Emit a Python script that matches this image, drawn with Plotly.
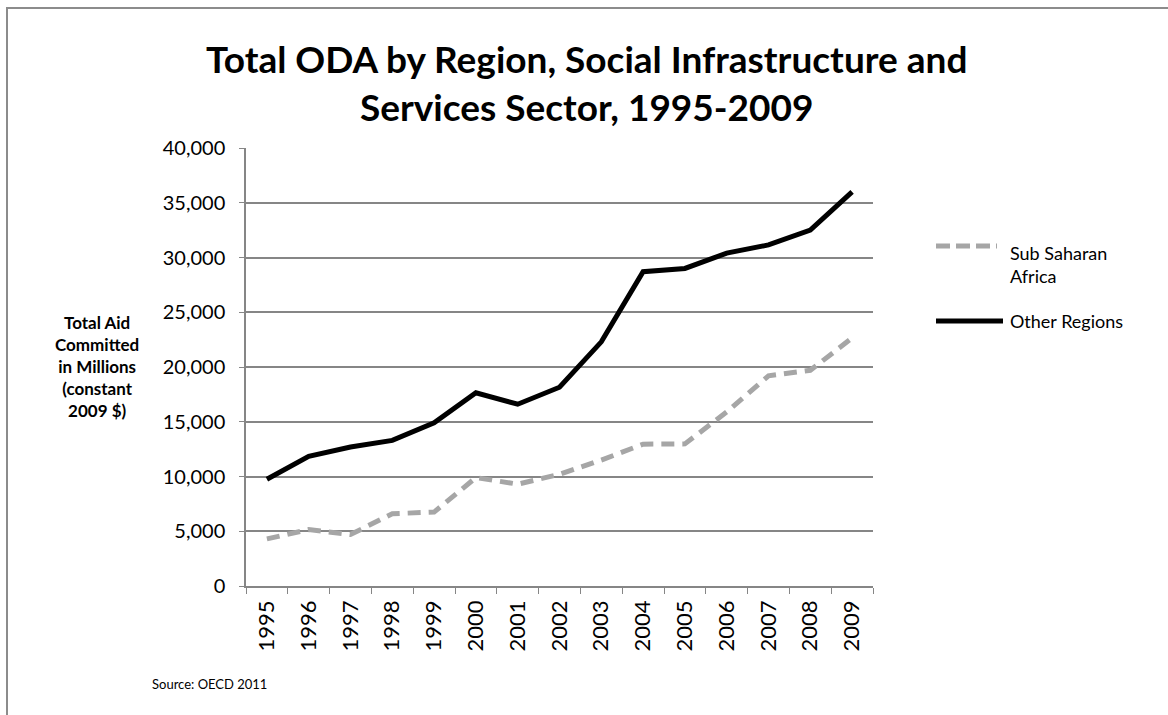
import plotly.graph_objects as go

years = ["1995", "1996", "1997", "1998", "1999", "2000", "2001", "2002",
         "2003", "2004", "2005", "2006", "2007", "2008", "2009"]
sub_saharan_africa = [4300, 5150, 4700, 6600, 6750, 9900, 9300, 10200,
                      11500, 12950, 12980, 15900, 19200, 19700, 22650]
other_regions = [9750, 11850, 12700, 13300, 14900, 17650, 16600, 18150,
                 22300, 28700, 29000, 30400, 31150, 32500, 36000]
y_ticks = [0, 5000, 10000, 15000, 20000, 25000, 30000, 35000, 40000]

FONT = "Lato"
GRID = "#868686"
W, H = 1168, 715
L, R, T, B = 246, 295, 148, 129
PW = W - L - R
PH = H - T - B


def px_x(px):
    return (px - L) / PW


def px_y(py):
    return (H - B - py) / PH


fig = go.Figure()
fig.add_trace(go.Scatter(
    x=years, y=sub_saharan_africa, mode="lines", name="Sub Saharan Africa",
    line=dict(color="#a6a6a6", width=5, dash="13px,8px"), showlegend=False))
fig.add_trace(go.Scatter(
    x=years, y=other_regions, mode="lines", name="Other Regions",
    line=dict(color="#000000", width=5), showlegend=False))

# legend drawn by hand
shapes = [
    dict(type="line", xref="paper", yref="paper",
         x0=px_x(936), x1=px_x(997), y0=px_y(246), y1=px_y(246),
         line=dict(color="#a6a6a6", width=5, dash="14px,6px")),
    dict(type="line", xref="paper", yref="paper",
         x0=px_x(936), x1=px_x(1003), y0=px_y(321), y1=px_y(321),
         line=dict(color="#000000", width=5)),
    # outer frame
    dict(type="rect", xref="paper", yref="paper",
         x0=px_x(7), x1=px_x(1200), y0=px_y(8), y1=px_y(760),
         line=dict(color="#8c8c8c", width=2)),
]

annotations = [
    dict(text="<b>Total ODA by Region, Social Infrastructure and<br>Services Sector, 1995-2009</b>",
         xref="paper", yref="paper", x=px_x(586), y=px_y(83), xanchor="center",
         yanchor="middle", showarrow=False, align="center",
         font=dict(family=FONT, size=37, color="#000")),
    dict(text="<b>Total Aid<br>Committed<br>in Millions<br>(constant<br>2009 $)</b>",
         xref="paper", yref="paper", x=px_x(97), y=px_y(366), xanchor="center",
         yanchor="middle", showarrow=False, align="center",
         font=dict(family=FONT, size=17, color="#000")),
    dict(text="Sub Saharan<br>Africa", xref="paper", yref="paper",
         x=px_x(1008), y=px_y(264), xanchor="left", yanchor="middle",
         showarrow=False, align="left",
         font=dict(family=FONT, size=18, color="#000")),
    dict(text="Other Regions", xref="paper", yref="paper",
         x=px_x(1008), y=px_y(321), xanchor="left", yanchor="middle",
         showarrow=False, align="left",
         font=dict(family=FONT, size=18, color="#000")),
    dict(text="Source: OECD 2011", xref="paper", yref="paper",
         x=px_x(150), y=px_y(684), xanchor="left", yanchor="middle",
         showarrow=False, font=dict(family=FONT, size=13, color="#000")),
]

fig.update_layout(
    width=W, height=H, margin=dict(l=L, r=R, t=T, b=B),
    paper_bgcolor="white", plot_bgcolor="white",
    shapes=shapes, annotations=annotations,
    font=dict(family=FONT, color="#000"),
)
fig.update_xaxes(
    type="category", range=[-0.5, len(years) - 0.5], tickangle=-90,
    tickson="boundaries", ticks="outside", ticklen=6, tickcolor=GRID,
    showline=True, linecolor=GRID, linewidth=1.5, showgrid=False,
    ticklabelstandoff=4,
    tickfont=dict(family=FONT, size=22, color="#000"))
fig.update_yaxes(
    range=[0, 40000], tickvals=y_ticks, tickformat=",",
    ticks="outside", ticklen=5, tickcolor=GRID, showline=True,
    linecolor=GRID, linewidth=1.5, showgrid=True, gridcolor=GRID,
    gridwidth=1.5, zeroline=False, ticklabelstandoff=10,
    tickfont=dict(family=FONT, size=20, color="#000"))

fig.write_html("out.html")
